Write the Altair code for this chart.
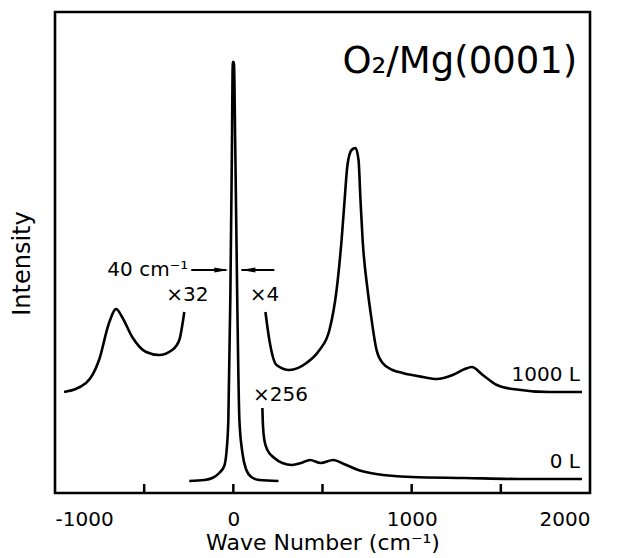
import altair as alt
import pandas as pd

# ---- data (wave number in cm^-1, intensity in arbitrary units) ----
seg_neg32_x = [-949, -826, -753, -697, -657, -624, -567, -489, -416, -343, -303, -275]
seg_neg32_y = [101, 110, 133, 170, 184, 176, 156, 141, 138, 143, 153, 181]

seg_pos4_x = [180, 202, 242, 315, 410, 483, 539, 579, 607, 624, 640, 663, 685, 702, 713, 725,
              753, 770, 803, 837, 893, 949, 1062, 1140, 1230, 1298, 1337, 1399, 1478, 1567, 1775, 1955]
seg_pos4_y = [181, 153, 128, 123, 130, 143, 163, 203, 253, 293, 328, 343, 345, 333, 293, 253,
              203, 180, 143, 130, 123, 120, 116, 114, 118, 124, 126, 118, 108, 104, 101, 101]

elastic_x = [-247, -163, -118, -79, -51, -39, -28, -17, -8, -3, 3, 11, 22, 34, 51, 73, 101, 146, 253]
elastic_y = [12, 13, 15, 20, 27, 40, 73, 193, 343, 431, 431, 343, 193, 73, 40, 23, 16, 13, 12]

seg_x256_x = [163, 166, 174, 191, 230, 275, 330, 380, 430, 490, 560, 620, 700, 800, 1000, 1300, 1600, 1955]
seg_x256_y = [85, 68, 53, 43, 35, 30, 28, 30, 33, 30, 33, 29, 23, 19, 16, 15, 14, 14]

tick_values = [-500, 0, 500, 1000, 1500]

rows = []
for name, xs, ys in [("neg32", seg_neg32_x, seg_neg32_y),
                     ("pos4", seg_pos4_x, seg_pos4_y),
                     ("elastic", elastic_x, elastic_y),
                     ("x256", seg_x256_x, seg_x256_y)]:
    for i, (a, b) in enumerate(zip(xs, ys)):
        rows.append({"seg": name, "x": a, "y": b, "i": i})
df = pd.DataFrame(rows)

FONT = "DejaVu Sans"

xscale = alt.Scale(domain=[-1000, 2000], nice=False, zero=False)
yscale = alt.Scale(domain=[0, 481], nice=False, zero=False)

lines = alt.Chart(df).mark_line(color="black", strokeWidth=2.6, interpolate="monotone").encode(
    x=alt.X("x:Q", scale=xscale,
            axis=alt.Axis(values=[-1000, 0, 1000, 2000], ticks=False, domain=False, grid=False,
                          labelFontSize=20, labelPadding=16, labelColor="black",
                          labelExpr="datum.value < 0 ? '-' + abs(datum.value) : '' + datum.value",
                          title="Wave Number (cm⁻¹)", titleFontSize=22, titleFontWeight="normal",
                          titlePadding=3, titleColor="black")),
    y=alt.Y("y:Q", scale=yscale,
            axis=alt.Axis(labels=False, ticks=False, domain=False, grid=False,
                          title="Intensity", titleFontSize=24, titleFontWeight="normal",
                          titlePadding=21, titleColor="black", titleY=251)),
    detail="seg:N",
    order="i:Q",
)

ticks_df = pd.DataFrame({"x": tick_values, "y": [0] * 5, "y2": [9] * 5})
ticks = alt.Chart(ticks_df).mark_rule(color="black", strokeWidth=2.5).encode(
    x="x:Q", y="y:Q", y2="y2:Q")

# annotations
ann_c = pd.DataFrame({"x": [-258, 174, 264], "y": [198, 198, 98], "t": ["×32", "×4", "×256"]})
ann_r = pd.DataFrame({"x": [1944, 1944, -253], "y": [118, 31, 223], "t": ["1000 L", "0 L", "40 cm⁻¹"]})
ann_title = pd.DataFrame({"x": [1270], "y": [431], "t": ["O₂/Mg(0001)"]})

t_c = alt.Chart(ann_c).mark_text(fontSize=20, align="center", baseline="middle", color="black",
                                 font=FONT).encode(x="x:Q", y="y:Q", text="t:N")
t_r = alt.Chart(ann_r).mark_text(fontSize=20, align="right", baseline="middle", color="black",
                                 font=FONT).encode(x="x:Q", y="y:Q", text="t:N")
t_title = alt.Chart(ann_title).mark_text(fontSize=37, align="center", baseline="middle", color="black",
                                         font=FONT).encode(x="x:Q", y="y:Q", text="t:N")

arrow_lines = pd.DataFrame({"x": [-236, 45], "x2": [-40, 230], "y": [223, 223]})
arr = alt.Chart(arrow_lines).mark_rule(color="black", strokeWidth=2).encode(
    x="x:Q", x2="x2:Q", y="y:Q")
head_r = alt.Chart(pd.DataFrame({"x": [-67], "y": [223]})).mark_point(
    shape="M -1 -0.35 L 1 0 L -1 0.35 Z", size=200, filled=True, color="black", opacity=1).encode(
    x="x:Q", y="y:Q")
head_l = alt.Chart(pd.DataFrame({"x": [84], "y": [223]})).mark_point(
    shape="M 1 -0.35 L -1 0 L 1 0.35 Z", size=200, filled=True, color="black", opacity=1).encode(
    x="x:Q", y="y:Q")

chart = alt.layer(lines, ticks, arr, head_r, head_l, t_c, t_r, t_title).properties(
    width=535, height=481,
    autosize=alt.AutoSizeParams(type="none"),
    padding={"left": 47, "top": 4, "right": 20, "bottom": 64},
    background="white",
).configure(font=FONT).configure_view(stroke="black", strokeWidth=2.6)

chart.save("out.html", embed_options={"renderer": "svg", "actions": False})
